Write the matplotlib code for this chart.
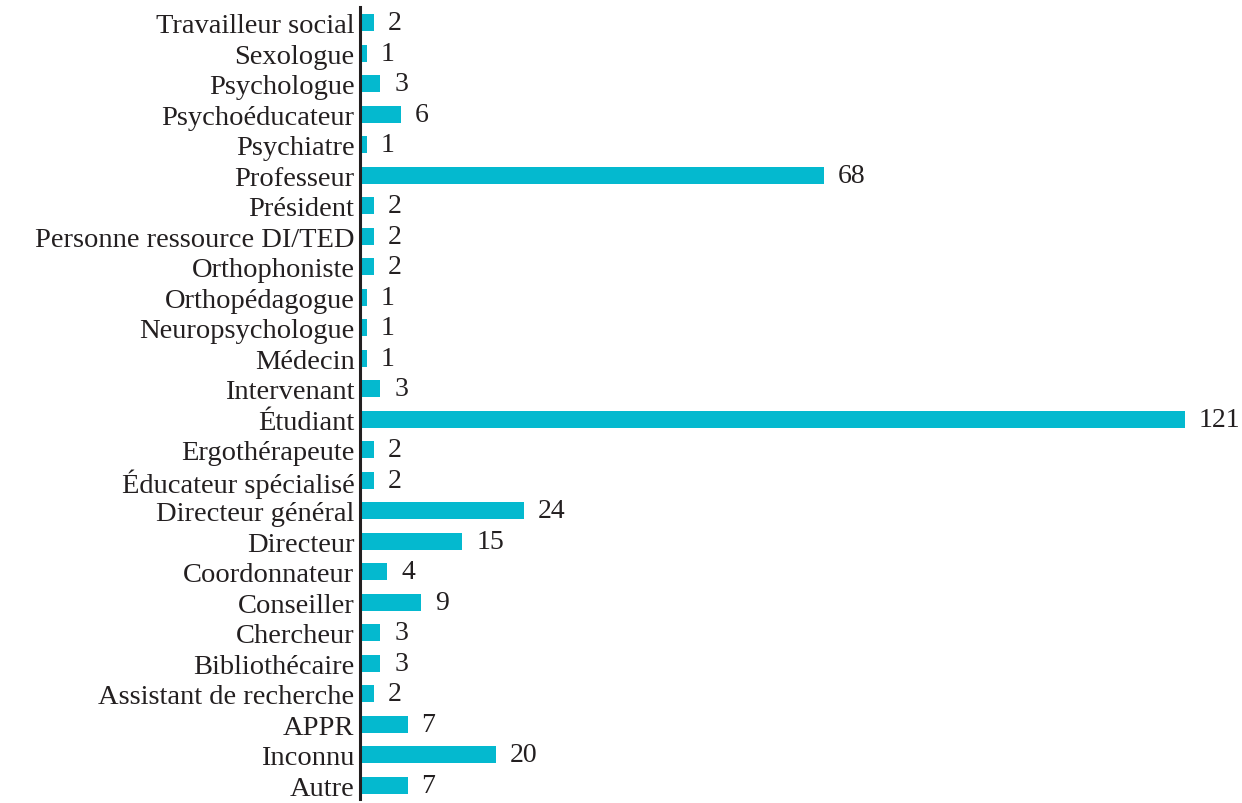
import numpy as np
import matplotlib
matplotlib.use('Agg')
import matplotlib.pyplot as plt

# categories listed top to bottom as in the chart
categories = ['Travailleur social', 'Sexologue', 'Psychologue', 'Psychoéducateur',
              'Psychiatre', 'Professeur', 'Président', 'Personne ressource DI/TED',
              'Orthophoniste', 'Orthopédagogue', 'Neuropsychologue', 'Médecin',
              'Intervenant', 'Étudiant', 'Ergothérapeute', 'Éducateur spécialisé',
              'Directeur général', 'Directeur', 'Coordonnateur', 'Conseiller',
              'Chercheur', 'Bibliothécaire', 'Assistant de recherche', 'APPR',
              'Inconnu', 'Autre']
counts = [2, 1, 3, 6, 1, 68, 2, 2, 2, 1, 1, 1, 3, 121, 2, 2, 24, 15, 4, 9, 3, 3, 2, 7, 20, 7]

bar_color = '#04B9CF'
text_color = '#231F20'

plt.rcParams['font.family'] = ['Liberation Serif', 'DejaVu Serif']

fig = plt.figure(figsize=(12.42, 8.04), dpi=100)
ax = fig.add_axes([360/1242, 4/804, 882/1242, 792/804])

n = len(categories)
y = np.arange(n)[::-1]
ax.barh(y, counts, height=0.56, color=bar_color)

for yi, v in zip(y, counts):
    ax.annotate(str(v), xy=(v, yi), xytext=(10, 0), textcoords='offset points',
                va='center', ha='left', fontsize=20, color=text_color)

ax.set_yticks(y)
ax.set_yticklabels(categories, fontsize=20.5, color=text_color)
ax.tick_params(axis='y', length=0, pad=4)
ax.set_xticks([])
ax.set_xlim(0, 882/6.818)
ax.set_ylim(-0.45, n - 1 + 0.52)

for s in ['top', 'right', 'bottom']:
    ax.spines[s].set_visible(False)
ax.spines['left'].set_color(text_color)
ax.spines['left'].set_linewidth(2.2)

fig.savefig('out.png', dpi=100)
